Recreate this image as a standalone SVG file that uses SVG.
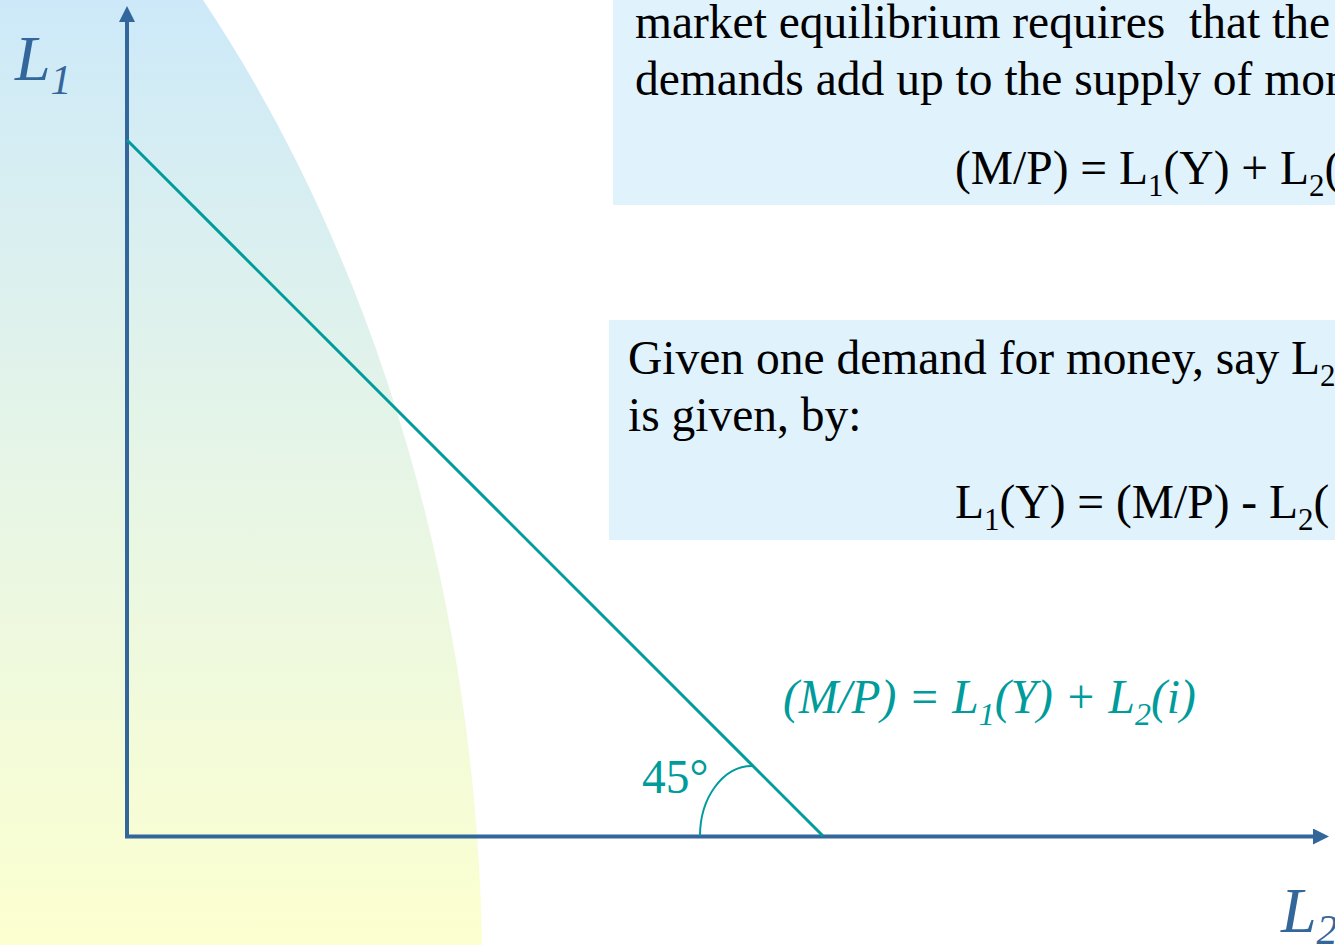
<svg xmlns="http://www.w3.org/2000/svg" width="1335" height="945" viewBox="0 0 1335 945">
  <defs>
    <linearGradient id="bg" x1="0" y1="0" x2="0" y2="1">
      <stop offset="0" stop-color="#cde9f9"/>
      <stop offset="0.5" stop-color="#e6f5e6"/>
      <stop offset="1" stop-color="#fcffcf"/>
    </linearGradient>
    <marker id="arrow" viewBox="0 0 16 16" refX="0" refY="8" markerWidth="16" markerHeight="16" markerUnits="userSpaceOnUse" orient="auto">
      <path d="M0 0 L16 8 L0 16 Z" fill="#33669a"/>
    </marker>
    <style>
      .box { fill: #e0f2fc; }
      .body { font-family: "Liberation Serif", "Times New Roman", serif; font-size: 47.5px; fill: #000; }
      .axis { stroke: #33669a; stroke-width: 4; fill: none; }
      .teal { stroke: #009b9b; fill: none; }
      .tealtext { font-family: "Liberation Serif", "Times New Roman", serif; fill: #009b9b; }
      .axislabel { font-family: "Liberation Serif", "Times New Roman", serif; font-style: italic; font-size: 64px; fill: #33669a; }
    </style>
  </defs>

  <g id="background">
    <path d="M0 0 L203 0 C378 262 476 600 482 945 L0 945 Z" fill="url(#bg)"/>
  </g>

  <g id="box-equilibrium">
    <rect class="box" x="613" y="0" width="722" height="205"/>
    <text class="body" x="635" y="38" xml:space="preserve">market equilibrium requires  that the</text>
    <text class="body" x="635" y="95">demands add up to the supply of mon</text>
    <text class="body" x="955" y="184">(M/P) = L<tspan font-size="31" dy="12">1</tspan><tspan dy="-12">(Y) + L</tspan><tspan font-size="31" dy="12">2</tspan><tspan dy="-12">(</tspan></text>
  </g>

  <g id="box-given">
    <rect class="box" x="609" y="320" width="726" height="220"/>
    <text class="body" x="628" y="374">Given one demand for money, say L<tspan font-size="31" dy="12">2</tspan></text>
    <text class="body" x="628" y="431">is given, by:</text>
    <text class="body" x="955" y="518">L<tspan font-size="31" dy="12">1</tspan><tspan dy="-12">(Y) = (M/P) - L</tspan><tspan font-size="31" dy="12">2</tspan><tspan dy="-12">(</tspan></text>
  </g>

  <g id="connectors">
    <line class="axis" x1="127" y1="838" x2="127" y2="22" marker-end="url(#arrow)"/>
    <line class="axis" x1="125" y1="836.5" x2="1313" y2="836.5" marker-end="url(#arrow)"/>
    <line class="teal" stroke-width="3" x1="127" y1="140" x2="823" y2="836"/>
    <path class="teal" stroke-width="2" d="M700 836 A52 70 0 0 1 752 766"/>
  </g>

  <g id="label-L1">
    <text class="axislabel" x="15" y="80">L<tspan font-size="42" dy="14">1</tspan></text>
  </g>
  <g id="label-L2">
    <text class="axislabel" x="1281" y="932">L<tspan font-size="42" dy="12">2</tspan></text>
  </g>
  <g id="label-45">
    <text class="tealtext" font-size="47.5" x="642" y="793">45°</text>
  </g>
  <g id="label-equation">
    <text class="tealtext" font-size="47.5" font-style="italic" x="783" y="713">(M/P) = L<tspan font-size="32" dy="12">1</tspan><tspan dy="-12">(Y) + L</tspan><tspan font-size="32" dy="12">2</tspan><tspan dy="-12">(i)</tspan></text>
  </g>
</svg>
